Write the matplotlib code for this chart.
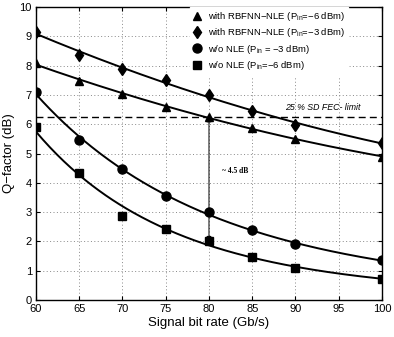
import numpy as np
import matplotlib
matplotlib.use("Agg")
import matplotlib.pyplot as plt

plt.rcParams['font.family'] = ['Liberation Sans', 'DejaVu Sans']
plt.rcParams['mathtext.fontset'] = 'custom'
plt.rcParams['mathtext.rm'] = 'Liberation Sans'

bit_rate = [60, 65, 70, 75, 80, 85, 90, 100]
rbf_m6 = [8.09, 7.47, 7.03, 6.59, 6.26, 5.88, 5.48, 4.89]
rbf_m3 = [9.16, 8.36, 7.88, 7.51, 7.00, 6.45, 5.97, 5.37]
wo_m3 = [7.11, 5.46, 4.46, 3.56, 2.99, 2.39, 1.90, 1.35]
wo_m6 = [5.90, 4.35, 2.87, 2.41, 2.02, 1.48, 1.10, 0.72]

labels = [r'with RBFNN$-$NLE (P$_{\mathrm{in}}$=$-$6 dBm)',
          r'with RBFNN$-$NLE (P$_{\mathrm{in}}$=$-$3 dBm)',
          r'w/o NLE (P$_{\mathrm{in}}$ = $-$3 dBm)',
          r'w/o NLE (P$_{\mathrm{in}}$=$-$6 dBm)']
markers = ['^', 'd', 'o', 's']
msizes = [6, 6, 6.5, 5.5]
fec_limit = 6.25
gap_text = '~ 4.5 dB'
fec_text = '25 % SD FEC- limit'

fig = plt.figure(figsize=(3.94, 3.37), dpi=100)
ax = fig.add_axes([0.0914, 0.110, 0.878, 0.869])

x = np.array(bit_rate, dtype=float)
xf = np.linspace(60, 100, 200)
series = [rbf_m6, rbf_m3, wo_m3, wo_m6]
handles = []
for ys, m, ms, lab in zip(series, markers, msizes, labels):
    ys = np.array(ys)
    if ys[0] - ys[-1] > 4:
        c = np.polyfit(x, np.log(ys), 2)
        yf = np.exp(np.polyval(c, xf))
    else:
        c = np.polyfit(x, ys, 2)
        yf = np.polyval(c, xf)
    ax.plot(xf, yf, color='black', lw=1.4, zorder=3)
    h, = ax.plot(x, ys, linestyle='none', marker=m, color='black', ms=ms, zorder=4, label=lab)
    handles.append(h)

ax.axhline(fec_limit, color='black', lw=1.0, ls=(0, (5, 3)), zorder=2)
ax.text(93.1, 6.56, fec_text, fontsize=6.3, style='italic', ha='center', va='center')

ax.annotate('', xy=(80, fec_limit), xytext=(80, 2.0),
            arrowprops=dict(arrowstyle='<|-|>', color='black', lw=0.7,
                            mutation_scale=7, shrinkA=0, shrinkB=0), zorder=5)
ax.text(81.5, 4.4, gap_text, fontsize=5.5, fontweight='bold', family='Liberation Serif',
        ha='left', va='center')

ax.set_xlim(60, 100)
ax.set_ylim(0, 10)
ax.set_xticks(np.arange(60, 101, 5))
ax.set_yticks(np.arange(0, 11, 1))
ax.grid(True, color='#888888', ls=(0, (1, 2.5)), lw=0.7)
ax.tick_params(direction='in', labelsize=8, length=3, top=True, right=True, pad=3)
for s in ax.spines.values():
    s.set_linewidth(1.0)
ax.set_xlabel('Signal bit rate (Gb/s)', fontsize=9.5, labelpad=2)
ax.set_ylabel('Q\u2212factor (dB)', fontsize=9.5, labelpad=3)

leg = ax.legend(handles=handles, loc='upper left', bbox_to_anchor=(0.444, 1.0),
                fontsize=6.8, frameon=True,
                framealpha=1, edgecolor='white', fancybox=False,
                handletextpad=0.6, labelspacing=0.35, borderaxespad=0.0,
                handlelength=1.0, borderpad=0.3)

fig.savefig('out.png', dpi=100)
